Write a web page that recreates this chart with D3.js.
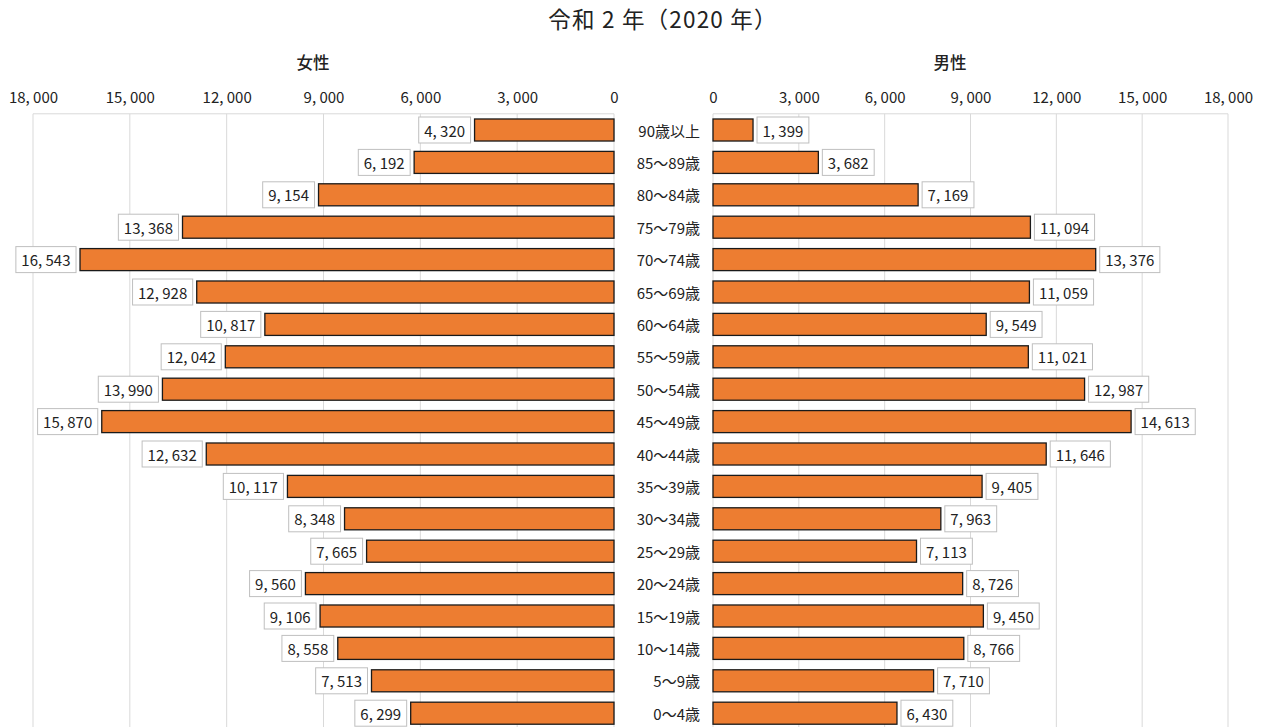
<!DOCTYPE html>
<html><head><meta charset="utf-8">
<script src="https://cdn.jsdelivr.net/npm/d3@7"></script>
<style>
body{margin:0;background:#fff;}
text{font-family:"Noto Sans CJK JP","Noto Sans",sans-serif;fill:#222;}
</style></head>
<body><svg id="c" width="1269" height="727"></svg>
<script>
const categories=["90歳以上","85～89歳","80～84歳","75～79歳","70～74歳","65～69歳","60～64歳","55～59歳","50～54歳","45～49歳","40～44歳","35～39歳","30～34歳","25～29歳","20～24歳","15～19歳","10～14歳","5～9歳","0～4歳"];
const female=[4320,6192,9154,13368,16543,12928,10817,12042,13990,15870,12632,10117,8348,7665,9560,9106,8558,7513,6299];
const male=[1399,3682,7169,11094,13376,11059,9549,11021,12987,14613,11646,9405,7963,7113,8726,9450,8766,7710,6430];
const tickValues=[0,3000,6000,9000,12000,15000,18000];
const title="令和 2 年（2020 年）";
const leftTitle="女性", rightTitle="男性";

const svg=d3.select("#c");
const fmt=v=>d3.format(",")(v).replace(/,/g,", ");
const plotTop=113.8, band=32.4;
const y=d3.scaleBand().domain(categories).range([plotTop,plotTop+band*categories.length]).paddingInner(0.32).paddingOuter(0.16);
const xL=d3.scaleLinear().domain([0,18000]).range([614,33]);
const xR=d3.scaleLinear().domain([0,18000]).range([713,1228]);

svg.append("text").attr("x",663).attr("y",28).attr("text-anchor","middle").attr("font-size",22.5)
  .attr("letter-spacing",1.2).text(title);
svg.append("text").attr("x",313).attr("y",69).attr("text-anchor","middle").attr("font-size",16.5).attr("font-weight",500).text(leftTitle);
svg.append("text").attr("x",950).attr("y",69).attr("text-anchor","middle").attr("font-size",16.5).attr("font-weight",500).text(rightTitle);

const plotBottom=740;
function panel(x,data){
  const g=svg.append("g");
  g.selectAll("line.grid").data(tickValues).join("line")
    .attr("x1",d=>x(d)).attr("x2",d=>x(d)).attr("y1",plotTop).attr("y2",plotBottom)
    .attr("stroke","#d9d9d9").attr("stroke-width",1);
  g.append("line").attr("x1",x(0)).attr("x2",x(18000)).attr("y1",plotTop).attr("y2",plotTop).attr("stroke","#d9d9d9");
  const ax=g.append("g").attr("transform",`translate(0,${plotTop-11})`)
    .call(d3.axisTop(x).tickValues(tickValues).tickFormat(fmt).tickSize(0).tickPadding(0));
  ax.select(".domain").remove();
  ax.selectAll("text").attr("font-size",15).attr("fill","#222").style("font-family",'"Noto Sans CJK JP",sans-serif');
  g.selectAll("rect.bar").data(data).join("rect")
    .attr("x",d=>Math.min(x(0),x(d))).attr("width",d=>Math.abs(x(d)-x(0)))
    .attr("y",(d,i)=>y(categories[i])).attr("height",y.bandwidth())
    .attr("fill","#ED7D31").attr("stroke","#1a1a1a").attr("stroke-width",1.3);
  const isLeft=x(1000)<x(0);
  data.forEach((d,i)=>{
    const cy=y(categories[i])+y.bandwidth()/2;
    const lg=g.append("g");
    const t=lg.append("text").attr("font-size",15).attr("dominant-baseline","central").attr("y",cy).text(fmt(d));
    const w=t.node().getComputedTextLength();
    const bw=w+11, bh=26;
    const bx=isLeft? x(d)-4-bw : x(d)+4;
    lg.insert("rect","text").attr("x",bx).attr("y",cy-bh/2).attr("width",bw).attr("height",bh)
      .attr("fill","#fff").attr("stroke","#bfbfbf").attr("stroke-width",1);
    t.attr("x",bx+5.5);
  });
}
panel(xL,female);
panel(xR,male);

svg.selectAll("text.cat").data(categories).join("text")
  .attr("x",700).attr("y",d=>y(d)+y.bandwidth()/2).attr("text-anchor","end")
  .attr("dominant-baseline","central").attr("font-size",15).text(d=>d);
</script></body></html>
